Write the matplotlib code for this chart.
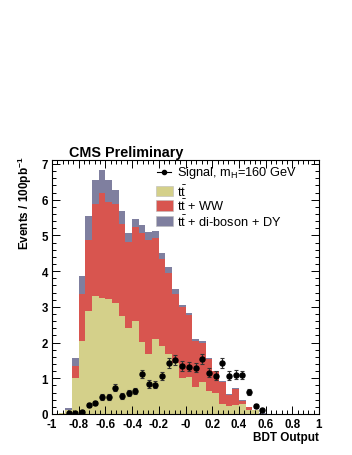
import numpy as np
import matplotlib
matplotlib.use("Agg")
import matplotlib.pyplot as plt
from matplotlib.patches import Rectangle
from matplotlib.lines import Line2D
from matplotlib.ticker import MultipleLocator, FixedLocator

plt.rcParams['font.family'] = ['Liberation Sans', 'DejaVu Sans']
plt.rcParams['mathtext.fontset'] = 'custom'
plt.rcParams['mathtext.rm'] = 'Liberation Sans'
plt.rcParams['mathtext.it'] = 'Liberation Sans:italic'
plt.rcParams['mathtext.bf'] = 'Liberation Sans:bold'

# BDT output binning: 40 bins from -1 to 1
edges = np.linspace(-1, 1, 41)

# ttbar (yellow)
tt = [0, 0.02, 0.10, 1.02, 2.05, 2.87, 3.31, 3.26, 3.23, 3.12,
      2.73, 2.42, 2.59, 2.02, 1.68, 2.11, 1.91, 1.68, 1.44, 1.02,
      1.03, 0.75, 0.90, 0.63, 0.60, 0.29, 0.23, 0.25, 0.28, 0.11,
      0.10, 0, 0, 0, 0, 0, 0, 0, 0, 0]
# ttbar + WW (red)
ww = [0, 0, 0.02, 0.31, 1.32, 1.99, 2.57, 2.94, 2.70, 2.76,
      2.60, 2.39, 2.65, 3.05, 3.19, 2.82, 2.44, 2.28, 1.91, 1.98,
      1.74, 1.30, 1.10, 0.91, 0.60, 0.61, 0.31, 0.46, 0.09, 0.08,
      0, 0, 0, 0, 0, 0, 0, 0, 0, 0]
# ttbar + di-boson + DY (blue-grey)
other = [0, 0.01, 0.04, 0.23, 0.49, 0.68, 0.68, 0.62, 0.63, 0.40,
         0.35, 0.25, 0.21, 0.21, 0.22, 0.19, 0.17, 0.16, 0.14, 0.05,
         0.05, 0.04, 0.03, 0.02, 0.01, 0.01, 0.01, 0.01, 0.01, 0.01,
         0, 0.02, 0, 0, 0, 0, 0, 0, 0, 0]
# signal mH=160 GeV
sig = [0, 0, 0.02, 0.02, 0.065, 0.25, 0.31, 0.47, 0.48, 0.73,
       0.51, 0.58, 0.65, 1.12, 0.84, 0.82, 1.06, 1.42, 1.50, 1.34,
       1.32, 1.30, 1.53, 1.16, 1.07, 1.42, 1.07, 1.10, 1.09, 0.62,
       0.23, 0.11, 0, 0, 0, 0, 0, 0, 0, 0]
sig_err = [0, 0, 0.01, 0.01, 0.03, 0.06, 0.065, 0.08, 0.08, 0.10,
           0.08, 0.09, 0.09, 0.12, 0.10, 0.10, 0.12, 0.14, 0.14, 0.13,
           0.13, 0.13, 0.14, 0.12, 0.12, 0.14, 0.12, 0.12, 0.12, 0.09,
           0.05, 0.03, 0, 0, 0, 0, 0, 0, 0, 0]

xticklabels = ['-1', '-0.8', '-0.6', '-0.4', '-0.2', '-0', '0.2', '0.4', '0.6', '0.8', '1']

c_tt = '#d4d08a'
c_ww = '#d8554f'
c_oth = '#7f7f9f'

tt = np.array(tt)
ww = np.array(ww)
other = np.array(other)
sig = np.array(sig)
sig_err = np.array(sig_err)

fig = plt.figure(figsize=(3.52, 4.56), dpi=100)
ax = fig.add_axes([52/352, 1-415/456, 267/352, (415-160.7)/456])

# stacked histogram
ax.stairs(tt+ww+other, edges, baseline=tt+ww, fill=True, color=c_oth, lw=0)
ax.stairs(tt+ww, edges, baseline=tt, fill=True, color=c_ww, lw=0)
ax.stairs(tt, edges, baseline=0, fill=True, color=c_tt, lw=0)

# signal points
centers = 0.5*(edges[1:]+edges[:-1])
m = sig > 0
ax.errorbar(centers[m], sig[m], yerr=sig_err[m], fmt='o', color='black',
            ms=3.6, ecolor='#333333', elinewidth=0.8, capsize=1.3, capthick=0.8)

ax.set_xlim(-1, 1)
ax.set_ylim(0, 7.12)
ax.xaxis.set_major_locator(FixedLocator(np.linspace(-1, 1, 11)))
ax.set_xticklabels(xticklabels)
ax.xaxis.set_minor_locator(MultipleLocator(0.04))
ax.yaxis.set_major_locator(MultipleLocator(1))
ax.yaxis.set_minor_locator(MultipleLocator(0.2))
ax.tick_params(which='both', direction='in', top=True, right=True, width=0.7)
ax.tick_params(which='major', length=6)
ax.tick_params(which='minor', length=3)
ax.tick_params(axis='x', pad=3)
ax.tick_params(axis='y', pad=3)
for lab in ax.get_xticklabels() + ax.get_yticklabels():
    lab.set_fontsize(8.3)
    lab.set_fontweight('bold')
for s in ax.spines.values():
    s.set_linewidth(0.8)

ax.set_xlabel('BDT Output', fontsize=8.5, fontweight='bold', loc='right')
ax.xaxis.set_label_coords(1.0, -0.066)
ax.set_ylabel(r'Events / 100pb$^{\mathbf{-1}}$', fontsize=8.5, fontweight='bold', loc='top')
ax.yaxis.set_label_coords(-0.066, 1.015)

fig.text(69/352, 1-156.5/456, 'CMS Preliminary', fontsize=10.4, fontweight='bold',
         ha='left', va='baseline')

# legend
fs = 9.2
ax.add_line(Line2D([0.393, 0.446], [0.953, 0.953], color='black', lw=0.8,
                   transform=ax.transAxes))
ax.plot([0.419], [0.953], 'o', color='black', ms=3.0, transform=ax.transAxes)
ax.text(0.468, 0.953, r'Signal, m$_{\mathrm{H}}$=160 GeV', fontsize=fs,
        va='center', ha='left', transform=ax.transAxes)
entries = [(c_tt, r'$\mathrm{t\bar{t}}$', 0.877),
           (c_ww, r'$\mathrm{t\bar{t}}$ + WW', 0.819),
           (c_oth, r'$\mathrm{t\bar{t}}$ + di-boson + DY', 0.759)]
for col, lab, yc in entries:
    ax.add_patch(Rectangle((0.3895, yc-0.021), 0.0635, 0.042, facecolor=col,
                           edgecolor='#bbbbbb', lw=0.4, transform=ax.transAxes))
    ax.text(0.468, yc, lab, fontsize=fs, va='center', ha='left', transform=ax.transAxes)

fig.savefig('out.png', dpi=100)
